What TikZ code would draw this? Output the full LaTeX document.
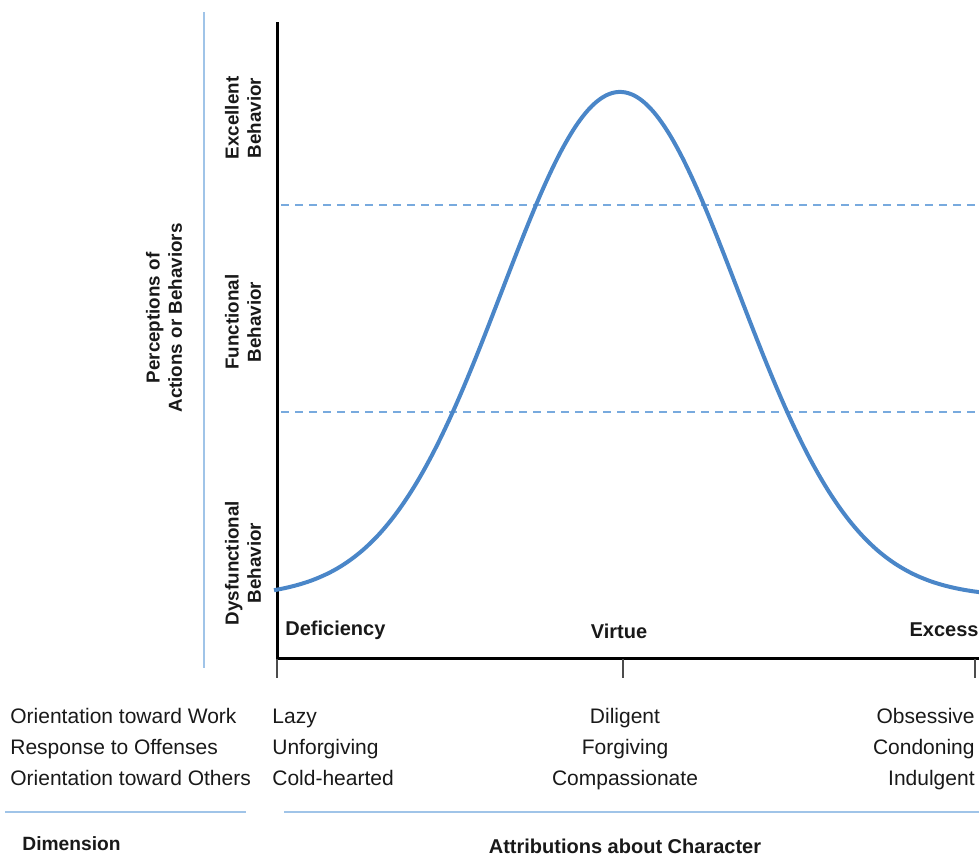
\documentclass[tikz,border=0pt]{standalone}
\usepackage{fontspec}
\setmainfont{Liberation Sans}
\usepackage{tikz}

\definecolor{curveblue}{RGB}{74,134,200}
\definecolor{lineblue}{RGB}{160,196,232}
\definecolor{dashblue}{RGB}{120,170,222}
\definecolor{textgray}{RGB}{25,25,25}

\begin{document}
\begin{tikzpicture}[x=.5pt,y=-.5pt,
	rowtext/.style={font=\fontsize{10.5}{12}\selectfont,text=textgray,inner sep=0pt,text height=1.6ex,text depth=.4ex},
	levtext/.style={font=\fontsize{9.4}{11.2}\selectfont\bfseries,text=textgray,rotate=90,align=center,inner sep=0pt},
	axtext/.style={font=\fontsize{10}{12}\selectfont\bfseries,text=textgray,inner sep=0pt},
	rule/.style={lineblue,line width=1.2pt},
	axis/.style={black,line width=1.5pt},
	tick/.style={gray!60!black,line width=1pt},
	level/.style={dashblue,dashed,line width=.8pt,dash pattern=on 4pt off 3pt},
	curve/.style={curveblue,line width=2pt}]
	\useasboundingbox (0,0) rectangle (979,858);
	% axes
	\coordinate (ytop) at (277,22);
	\coordinate (origin) at (277,658);
	\coordinate (xend) at (979,658);
	\draw[axis] (ytop) -- (origin) -- (xend);
	\foreach \t/\x in {lo/277,mid/623,hi/975}
		\draw[tick] (\x,659) coordinate (t\t) -- (\x,678);
	% blue rule on the left
	\coordinate (rtop) at (204,12);
	\coordinate (rbot) at (204,668);
	\draw[rule] (rtop) -- (rbot);
	% level lines
	\foreach \y/\n in {205/up,412/down}{
		\coordinate (\n a) at (281,\y);
		\coordinate (\n b) at (979,\y);
		\draw[level] (\n a) -- (\n b);
	}
	% bell curve
	\draw[curve] plot[domain=-2.932:3.068,samples=150,smooth] ({620+118*\x},{597-505*exp(-\x*\x/2)});
	% level labels
	\node[levtext] (excellent) at (243,118) {Excellent\\Behavior};
	\node[levtext] (functional) at (243,322) {Functional\\Behavior};
	\node[levtext] (dysfunctional) at (243,563) {Dysfunctional\\Behavior};
	\node[levtext] (perceptions) at (164,318) {Perceptions of\\Actions or Behaviors};
	% axis labels
	\node[axtext,anchor=west] (deficiency) at (285,630) {Deficiency};
	\node[axtext] (virtue) at (619,631) {Virtue};
	\node[axtext,anchor=east] (excess) at (979,630) {Excess};
	% rows
	\foreach \dim/\lo/\mid/\hi/\y [count=\i] in {
		Orientation toward Work/Lazy/Diligent/Obsessive/717,
		Response to Offenses/Unforgiving/Forgiving/Condoning/748,
		Orientation toward Others/Cold-hearted/Compassionate/Indulgent/779}{
		\node[rowtext,anchor=west] (dim\i) at (10,\y) {\dim};
		\node[rowtext,anchor=west] (lo\i) at (272,\y) {\lo};
		\node[rowtext] (mid\i) at (625,\y) {\mid};
		\node[rowtext,anchor=east] (hi\i) at (975,\y) {\hi};
	}
	% bottom rules and headings
	\coordinate (la) at (5,812);
	\coordinate (lb) at (246,812);
	\coordinate (ra) at (284,812);
	\coordinate (rb) at (979,812);
	\draw[rule] (la) -- (lb);
	\draw[rule] (ra) -- (rb);
	\node[axtext,font=\fontsize{9.6}{12}\selectfont\bfseries,anchor=west] (dimension) at (22,844) {Dimension};
	\node[axtext] (attributions) at (625,846) {Attributions about Character};
\end{tikzpicture}
\end{document}
